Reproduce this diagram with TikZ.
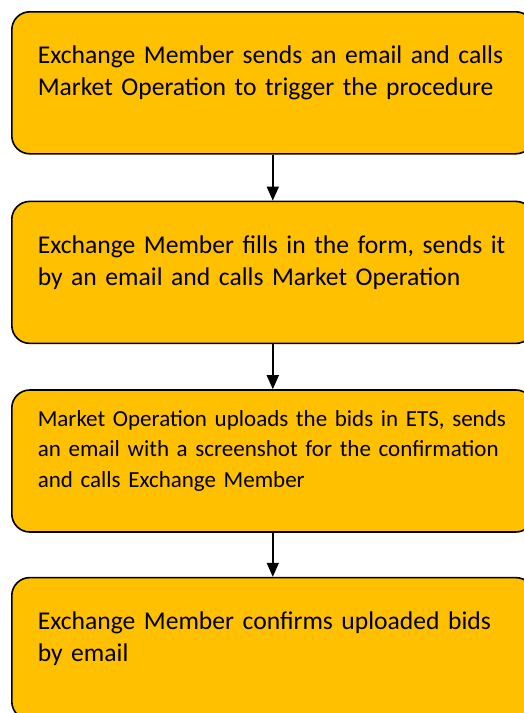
\documentclass[tikz,border=0pt]{standalone}
\usepackage{fontspec}
\setmainfont{Carlito}
\usetikzlibrary{arrows.meta, positioning}
\definecolor{boxgold}{HTML}{FFC000}
\tikzset{
  stepbox/.style={draw, line width=1.6pt, fill=boxgold, rounded corners=18pt,
    minimum width=522pt, minimum height=142pt, text width=470pt,
    inner xsep=26pt, align=left, font=\fontsize{25.6}{32}\selectfont},
  flow/.style={line width=1.6pt, -{Triangle[width=12pt,length=14pt]}},
}
\newcommand{\tailstrut}{\rule[-24pt]{0pt}{24pt}}

\begin{document}
\begin{tikzpicture}
 \useasboundingbox (0pt,0pt) rectangle (524pt,-713pt);
 \node[stepbox, anchor=north west] (S1) at (11pt,-11pt) {Exchange Member sends an email and calls\\Market Operation to trigger the procedure\tailstrut};
 \node[stepbox, below=46pt of S1] (S2) {Exchange Member fills in the form, sends it\\by an email and calls Market Operation\tailstrut};
 \node[stepbox, below=45pt of S2, font=\fontsize{23}{30.5}\selectfont] (S3) {Market Operation uploads the bids in ETS, sends\\an email with a screenshot for the confirmation\\and calls Exchange Member\tailstrut};
 \node[stepbox, below=44pt of S3] (S4) {Exchange Member confirms uploaded bids\\by email\tailstrut};
 \draw[flow] (S1) -- (S2);
 \draw[flow] (S2) -- (S3);
 \draw[flow] (S3) -- (S4);
\end{tikzpicture}
\end{document}
